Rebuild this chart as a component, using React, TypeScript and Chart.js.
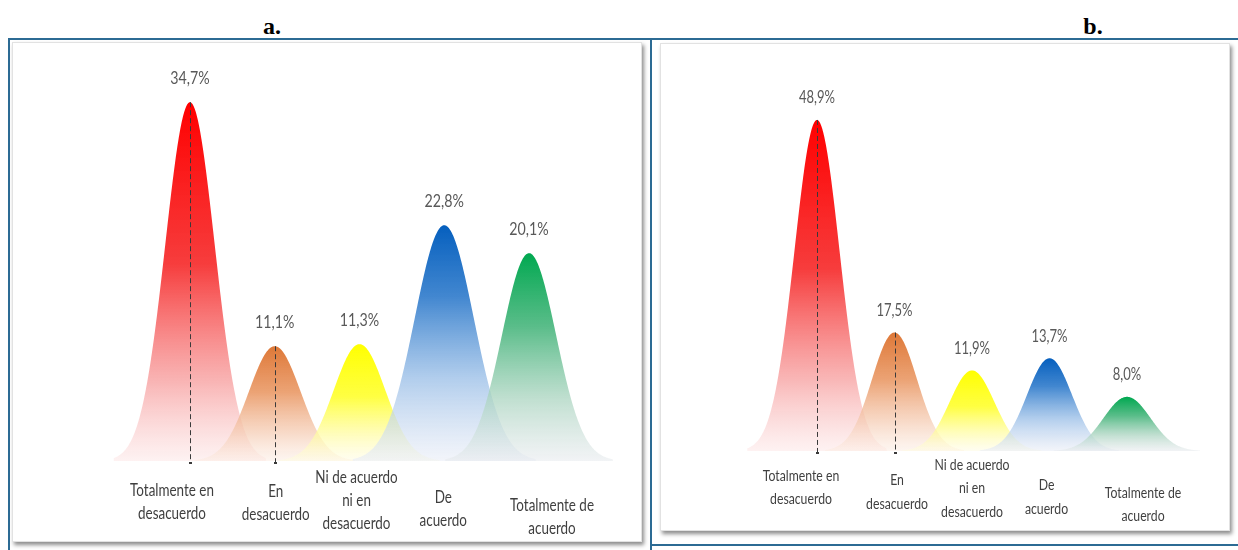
import React, { useEffect, useRef } from "react";
import { Chart, registerables } from "chart.js";

Chart.register(...registerables);

// ---------- data ----------
const categories: string[][] = [
  ["Totalmente en", "desacuerdo"],
  ["En", "desacuerdo"],
  ["Ni de acuerdo", "ni en", "desacuerdo"],
  ["De", "acuerdo"],
  ["Totalmente de", "acuerdo"],
];
const valuesA = [34.7, 11.1, 11.3, 22.8, 20.1];
const valuesB = [48.9, 17.5, 11.9, 13.7, 8.0];
const panelTitles = ["a.", "b."];

// ---------- styles ----------
const FONT = 'Lato, "Open Sans", "DejaVu Sans", sans-serif';
const bellStops: [number, string][][] = [
  [[0, "rgba(255,0,0,1)"], [0.45, "rgba(246,50,50,0.95)"], [0.78, "rgba(247,160,160,0.78)"], [1, "rgba(252,228,228,0.5)"]],
  [[0, "rgba(222,120,55,1)"], [0.4, "rgba(234,155,105,0.92)"], [0.75, "rgba(245,203,178,0.72)"], [1, "rgba(252,236,226,0.5)"]],
  [[0, "rgba(255,255,0,1)"], [0.45, "rgba(255,255,50,0.92)"], [0.78, "rgba(255,252,165,0.72)"], [1, "rgba(255,252,226,0.5)"]],
  [[0, "rgba(5,95,190,1)"], [0.3, "rgba(55,128,205,0.95)"], [0.65, "rgba(158,193,232,0.8)"], [1, "rgba(232,236,246,0.55)"]],
  [[0, "rgba(0,168,80,1)"], [0.35, "rgba(75,183,127,0.92)"], [0.7, "rgba(172,213,193,0.76)"], [1, "rgba(230,233,237,0.55)"]],
];

type PanelCfg = {
  values: number[];
  width: number;
  height: number;
  yMax: number;
  pad: { left: number; right: number; top: number; bottom: number };
  sigmaK: number;
  widthMul: number[];
  valGap: number;
  valFont: number;
  catFont: number;
  lineH: number;
  squeeze: number;
  catDx: number[];
  catDy: number[];
  dashed: number[];
};

const fmt = (v: number) => v.toFixed(1).replace(".", ",") + "%";

function squeezedText(ctx: CanvasRenderingContext2D, s: string, x: number, y: number, k: number) {
  ctx.save();
  ctx.translate(x, y);
  ctx.scale(k, 1);
  ctx.fillText(s, 0, 0);
  ctx.restore();
}

function makeBellPlugin(cfg: PanelCfg) {
  return {
    id: "bells",
    afterDatasetsDraw(chart: any) {
      const ctx: CanvasRenderingContext2D = chart.ctx;
      const meta = chart.getDatasetMeta(0);
      ctx.save();
      // bells
      meta.data.forEach((el: any, i: number) => {
        const p = el.getProps(["x", "y", "base", "width"], true);
        const s = p.width * cfg.sigmaK * cfg.widthMul[i];
        const h = p.base - p.y;
        const g = ctx.createLinearGradient(0, p.y, 0, p.base);
        bellStops[i].forEach(([st, c]) => g.addColorStop(st, c));
        const ext = 3.1 * s;
        ctx.beginPath();
        ctx.moveTo(p.x - ext, p.base);
        for (let dx = -ext; dx <= ext; dx += 0.5) {
          ctx.lineTo(p.x + dx, p.base - h * Math.exp(-(dx * dx) / (2 * s * s)));
        }
        ctx.lineTo(p.x + ext, p.base);
        ctx.closePath();
        ctx.fillStyle = g;
        ctx.fill();
      });
      // dashed drop lines
      cfg.dashed.forEach((i) => {
        const el = meta.data[i];
        const p = el.getProps(["x", "y", "base"], true);
        ctx.beginPath();
        ctx.setLineDash([5, 3]);
        ctx.strokeStyle = "#3a3a3a";
        ctx.lineWidth = 1;
        ctx.moveTo(Math.round(p.x) + 0.5, p.y);
        ctx.lineTo(Math.round(p.x) + 0.5, p.base + 1);
        ctx.stroke();
        ctx.setLineDash([]);
        ctx.fillStyle = "#3a3a3a";
        ctx.fillRect(Math.round(p.x) - 1, p.base + 1, 3, 2);
      });
      // value labels
      ctx.fillStyle = "#595959";
      ctx.textAlign = "center";
      ctx.textBaseline = "middle";
      ctx.font = `${cfg.valFont}px ${FONT}`;
      meta.data.forEach((el: any, i: number) => {
        const p = el.getProps(["x", "y"], true);
        squeezedText(ctx, fmt(cfg.values[i]), p.x, p.y - cfg.valGap, cfg.squeeze);
      });
      // category labels (positioned from the x scale)
      const xs = chart.scales.x;
      const base = chart.scales.y.getPixelForValue(0);
      ctx.fillStyle = "#3f3f3f";
      ctx.font = `${cfg.catFont}px ${FONT}`;
      categories.forEach((lines, i) => {
        const cx = xs.getPixelForValue(i) + cfg.catDx[i];
        const cy = base + cfg.catDy[i];
        const top = cy - ((lines.length - 1) * cfg.lineH) / 2;
        lines.forEach((ln, k) => squeezedText(ctx, ln, cx, top + k * cfg.lineH, cfg.squeeze));
      });
      ctx.restore();
    },
  };
}

function Panel({ cfg, style }: { cfg: PanelCfg; style: React.CSSProperties }) {
  const ref = useRef<HTMLCanvasElement>(null);
  useEffect(() => {
    if (!ref.current) return;
    const chart = new Chart(ref.current, {
      type: "bar",
      data: {
        labels: categories.map((c) => c.join(" ")),
        datasets: [
          {
            data: cfg.values,
            backgroundColor: "rgba(0,0,0,0)",
            borderWidth: 0,
            categoryPercentage: 1,
            barPercentage: 1,
          },
        ],
      },
      options: {
        responsive: false,
        animation: false,
        devicePixelRatio: 1,
        layout: { padding: cfg.pad },
        plugins: { legend: { display: false }, tooltip: { enabled: false } },
        scales: {
          x: { display: false },
          y: { display: false, min: 0, max: cfg.yMax },
        },
      },
      plugins: [makeBellPlugin(cfg)],
    });
    return () => chart.destroy();
  }, [cfg]);
  return <canvas ref={ref} width={cfg.width} height={cfg.height} style={{ position: "absolute", ...style }} />;
}

const cfgA: PanelCfg = {
  values: valuesA,
  width: 630,
  height: 500,
  yMax: 40,
  pad: { left: 135.6, right: 70.6, top: 5.4, bottom: 81 },
  sigmaK: 0.29,
  widthMul: [1, 1.05, 1.05, 1.2, 1.1],
  valGap: 24,
  valFont: 18,
  catFont: 17,
  lineH: 23,
  squeeze: 0.79,
  catDx: [-18, 1, -3, -1, 23],
  catDy: [41.5, 42.5, 40, 48.5, 56.5],
  dashed: [0, 1],
};

const cfgB: PanelCfg = {
  values: valuesB,
  width: 570,
  height: 488,
  yMax: 60,
  pad: { left: 118.25, right: 64.25, top: 1.8, bottom: 80 },
  sigmaK: 0.29,
  widthMul: [1, 1, 1, 1, 1.05],
  valGap: 22,
  valFont: 16.5,
  catFont: 15.5,
  lineH: 23.5,
  squeeze: 0.79,
  catDx: [-16, 2.5, 0, -3, 16],
  catDy: [36.5, 41, 37, 46, 53.5],
  dashed: [0, 1],
};

const BLUE = "#2C6B94";

const titleStyle: React.CSSProperties = {
  position: "absolute",
  top: 14,
  width: 100,
  textAlign: "center",
  font: 'bold 24px "Liberation Serif", serif',
  lineHeight: "24px",
  color: "#000",
};

export default function App() {
  return (
    <div
      style={{
        position: "absolute",
        left: 0,
        top: 0,
        width: 1238,
        height: 550,
        overflow: "hidden",
        background: "#fff",
      }}
    >
      <div style={{ ...titleStyle, left: 222 }}>{panelTitles[0]}</div>
      <div style={{ ...titleStyle, left: 1043 }}>{panelTitles[1]}</div>

      {/* blue table frame */}
      <div style={{ position: "absolute", left: 8, top: 38, width: 1230, height: 2, background: BLUE }} />
      <div style={{ position: "absolute", left: 8, top: 38, width: 2, height: 512, background: BLUE }} />
      <div style={{ position: "absolute", left: 650, top: 38, width: 2, height: 512, background: BLUE }} />
      <div style={{ position: "absolute", left: 650, top: 544, width: 588, height: 2, background: BLUE }} />

      {/* picture boxes */}
      <div
        style={{
          position: "absolute",
          left: 12,
          top: 42,
          width: 628,
          height: 498,
          border: "1px solid #e2e2e2",
          boxShadow: "2px 3px 4px rgba(0,0,0,0.45)",
          background: "#fff",
        }}
      />
      <div
        style={{
          position: "absolute",
          left: 660,
          top: 43,
          width: 568,
          height: 486,
          border: "1px solid #e2e2e2",
          boxShadow: "2px 3px 4px rgba(0,0,0,0.45)",
          background: "#fff",
        }}
      />
      <Panel cfg={cfgA} style={{ left: 12, top: 42 }} />
      <Panel cfg={cfgB} style={{ left: 660, top: 43 }} />
    </div>
  );
}
